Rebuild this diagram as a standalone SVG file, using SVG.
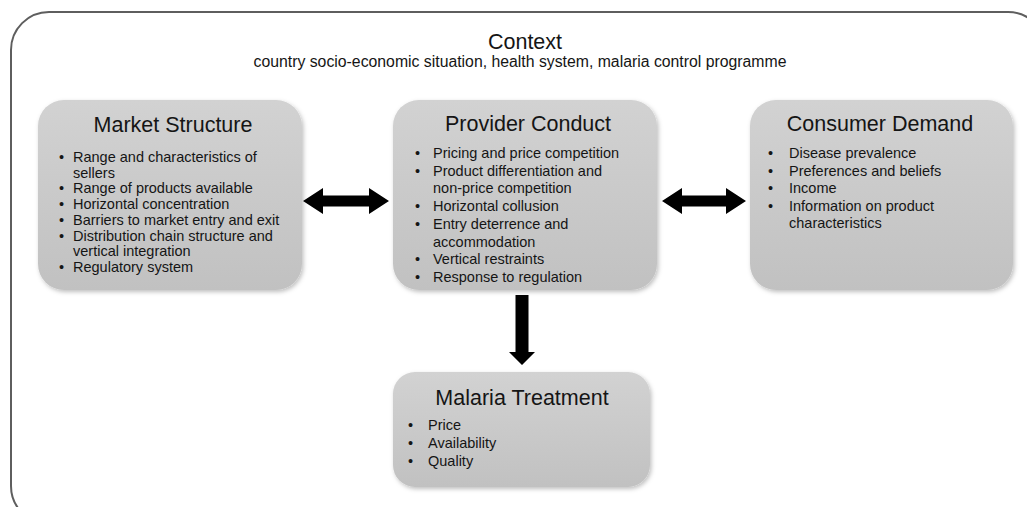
<svg xmlns="http://www.w3.org/2000/svg" width="1027" height="507" viewBox="0 0 1027 507">
<defs>
<linearGradient id="g" x1="0" y1="0" x2="0" y2="1">
<stop offset="0" stop-color="#d2d2d2"/>
<stop offset="1" stop-color="#c1c1c1"/>
</linearGradient>
<filter id="sh" x="-10%" y="-10%" width="120%" height="120%">
<feDropShadow dx="1.5" dy="2" stdDeviation="2" flood-color="#000" flood-opacity="0.25"/>
</filter>
<style>
text{font-family:"Liberation Sans",Arial,sans-serif;fill:#151515}
.box{fill:url(#g);filter:url(#sh)}
.t{font-size:21.5px;text-anchor:middle}
.b{font-size:14.5px}
.ar{fill:#000}
</style>
</defs>
<rect x="0" y="0" width="1027" height="507" fill="#fff"/>
<g id="context">
<rect x="11" y="12" width="1035" height="512" rx="38" fill="none" stroke="#5e5e5e" stroke-width="2"/>
<text x="525" y="49" style="font-size:21.5px;text-anchor:middle">Context</text>
<text x="520" y="67" style="font-size:15.8px;text-anchor:middle">country socio-economic situation, health system, malaria control programme</text>
</g>
<g id="market-structure">
<rect class="box" x="38" y="100" width="264" height="190" rx="26"/>
<text class="t" x="173" y="132">Market Structure</text>
<g class="b">
<text x="59" y="162">•</text><text x="73" y="162">Range and characteristics of</text>
<text x="73" y="177.7">sellers</text>
<text x="59" y="193.4">•</text><text x="73" y="193.4">Range of products available</text>
<text x="59" y="209.1">•</text><text x="73" y="209.1">Horizontal concentration</text>
<text x="59" y="224.8">•</text><text x="73" y="224.8">Barriers to market entry and exit</text>
<text x="59" y="240.5">•</text><text x="73" y="240.5">Distribution chain structure and</text>
<text x="73" y="256.2">vertical integration</text>
<text x="59" y="271.9">•</text><text x="73" y="271.9">Regulatory system</text>
</g>
</g>
<g id="provider-conduct">
<rect class="box" x="393" y="100" width="264" height="190" rx="26"/>
<text class="t" x="528" y="131">Provider Conduct</text>
<g class="b">
<text x="415" y="158">•</text><text x="433" y="158">Pricing and price competition</text>
<text x="415" y="175.7">•</text><text x="433" y="175.7">Product differentiation and</text>
<text x="433" y="193.4">non-price competition</text>
<text x="415" y="211.1">•</text><text x="433" y="211.1">Horizontal collusion</text>
<text x="415" y="228.8">•</text><text x="433" y="228.8">Entry deterrence and</text>
<text x="433" y="246.5">accommodation</text>
<text x="415" y="264.2">•</text><text x="433" y="264.2">Vertical restraints</text>
<text x="415" y="281.9">•</text><text x="433" y="281.9">Response to regulation</text>
</g>
</g>
<g id="consumer-demand">
<rect class="box" x="750" y="100" width="263" height="190" rx="26"/>
<text class="t" x="880" y="131">Consumer Demand</text>
<g class="b">
<text x="768" y="158">•</text><text x="789" y="158">Disease prevalence</text>
<text x="768" y="175.5">•</text><text x="789" y="175.5">Preferences and beliefs</text>
<text x="768" y="193">•</text><text x="789" y="193">Income</text>
<text x="768" y="210.5">•</text><text x="789" y="210.5">Information on product</text>
<text x="789" y="228">characteristics</text>
</g>
</g>
<g id="malaria-treatment">
<rect class="box" x="393" y="372" width="257" height="115" rx="22"/>
<text class="t" x="522" y="405">Malaria Treatment</text>
<g class="b">
<text x="408" y="430">•</text><text x="428" y="430">Price</text>
<text x="408" y="448">•</text><text x="428" y="448">Availability</text>
<text x="408" y="466">•</text><text x="428" y="466">Quality</text>
</g>
</g>
<g id="connectors">
<polygon class="ar" points="303,201 323,188 323,195.5 369,195.5 369,188 389,201 369,214 369,206.5 323,206.5 323,214"/>
<polygon class="ar" points="662,201 682,188 682,195.5 726,195.5 726,188 746,201 726,214 726,206.5 682,206.5 682,214"/>
<polygon class="ar" points="515.5,295 528.5,295 528.5,352 535,352 522,365 509,352 515.5,352"/>
</g>
</svg>
